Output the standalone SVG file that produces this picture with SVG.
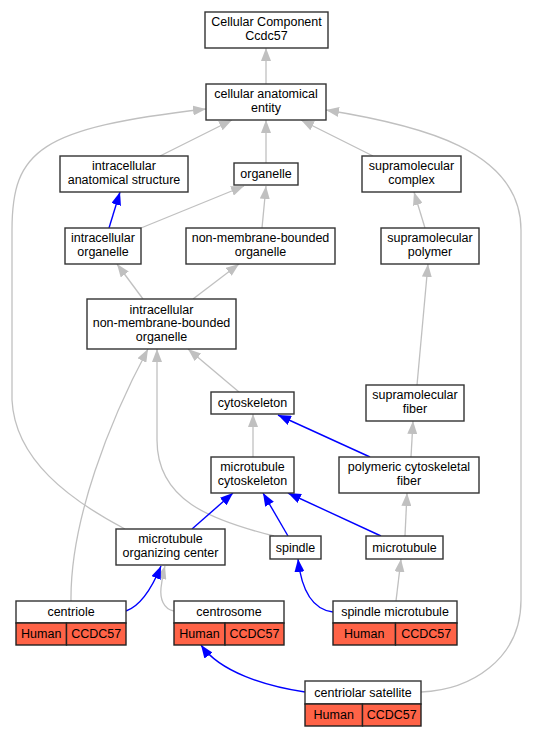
<svg xmlns="http://www.w3.org/2000/svg" width="533" height="736" viewBox="0 0 533 736">
<style>
.b{fill:#fff;stroke:#333;stroke-width:1.4}
.r{fill:#ff6347;stroke:#222;stroke-width:1.4}
text{font-family:"Liberation Sans",Arial,sans-serif;font-size:12.5px;fill:#000;text-anchor:middle}
.g{fill:none;stroke:#c0c0c0;stroke-width:1.3;marker-end:url(#ag)}
.u{fill:none;stroke:#0000ff;stroke-width:1.4;marker-end:url(#ab)}
</style>
<defs>
<marker id="ag" viewBox="0 0 13 10" refX="13" refY="5" markerWidth="13" markerHeight="10" markerUnits="userSpaceOnUse" orient="auto"><path d="M0,0 L13,5 L0,10 z" fill="#c0c0c0"/></marker>
<marker id="ab" viewBox="0 0 13 10" refX="13" refY="5" markerWidth="13" markerHeight="10" markerUnits="userSpaceOnUse" orient="auto"><path d="M0,0 L13,5 L0,10 z" fill="#0000ff"/></marker>
</defs>
<rect width="533" height="736" fill="#fff"/>
<g id="edges">
<path class="g" d="M266,84 L266,48"/>
<path class="g" d="M160,156 L232,120"/>
<path class="g" d="M266,163 L266,120"/>
<path class="g" d="M373,156 L301,120"/>
<path class="g" d="M125,529 C70,500 15,460 12,400 L12,230 C12,150 40,128 206,109"/>
<path class="g" d="M421,692 C470,690 521,660 521,600 L521,230 C521,150 420,125 326,110"/>
<path class="g" d="M141,228 L244,186"/>
<path class="g" d="M262,228 L266,186"/>
<path class="g" d="M425,228 L414,192"/>
<path class="g" d="M143,299 L117,264"/>
<path class="g" d="M193,299 L239,264"/>
<path class="g" d="M417,385 L428,264"/>
<path class="g" d="M239,392 L188,349"/>
<path class="g" d="M274,536 C210,520 157,500 157,440 L157,349"/>
<path class="g" d="M71,601 C70,520 110,420 148,349"/>
<path class="g" d="M253,457 L253,414"/>
<path class="g" d="M411,457 L413,421"/>
<path class="g" d="M405,536 L407,493"/>
<path class="g" d="M174,611 C163,609 160,598 161,588 C162,580 163,573 165,566"/>
<path class="g" d="M396,601 L401,559"/>
<path class="u" d="M109,228 L120,192"/>
<path class="u" d="M370,457 L278,415"/>
<path class="u" d="M192,529 L233,493"/>
<path class="u" d="M288,536 L263,493"/>
<path class="u" d="M381,536 L288,493"/>
<path class="u" d="M126,611 C140,606 152,588 161,566"/>
<path class="u" d="M333,612 C316,610 302,595 298,559"/>
<path class="u" d="M305,692 C265,686 220,672 201,645"/>
</g>
<g id="n_cc"><rect class="b" x="205" y="12" width="123" height="36"/><text x="266.5" y="26.2">Cellular Component</text><text x="266.5" y="39.7">Ccdc57</text></g>
<g id="n_ccae"><rect class="b" x="206" y="84" width="120" height="36"/><text x="266" y="98.2">cellular anatomical</text><text x="266" y="111.7">entity</text></g>
<g id="n_ias"><rect class="b" x="60" y="156" width="128" height="36"/><text x="124" y="170.2">intracellular</text><text x="124" y="183.7">anatomical structure</text></g>
<g id="n_org"><rect class="b" x="234" y="163" width="64" height="22"/><text x="266" y="178">organelle</text></g>
<g id="n_sc"><rect class="b" x="362" y="156" width="99" height="36"/><text x="411.5" y="170.2">supramolecular</text><text x="411.5" y="183.7">complex</text></g>
<g id="n_io"><rect class="b" x="65" y="228" width="76" height="36"/><text x="103" y="242.2">intracellular</text><text x="103" y="255.7">organelle</text></g>
<g id="n_nmbo"><rect class="b" x="186" y="228" width="149" height="36"/><text x="260.5" y="242.2">non-membrane-bounded</text><text x="260.5" y="255.7">organelle</text></g>
<g id="n_sp"><rect class="b" x="381" y="228" width="98" height="36"/><text x="430" y="242.2">supramolecular</text><text x="430" y="255.7">polymer</text></g>
<g id="n_inmbo"><rect class="b" x="87" y="299" width="149" height="50"/><text x="161.5" y="313.9">intracellular</text><text x="161.5" y="327.3">non-membrane-bounded</text><text x="161.5" y="340.7">organelle</text></g>
<g id="n_cyto"><rect class="b" x="211" y="392" width="83" height="22"/><text x="252.5" y="407">cytoskeleton</text></g>
<g id="n_sf"><rect class="b" x="366" y="385" width="98" height="36"/><text x="415" y="399.2">supramolecular</text><text x="415" y="412.7">fiber</text></g>
<g id="n_mtc"><rect class="b" x="211" y="457" width="83" height="36"/><text x="252.5" y="471.2">microtubule</text><text x="252.5" y="484.7">cytoskeleton</text></g>
<g id="n_pcf"><rect class="b" x="339" y="457" width="140" height="36"/><text x="409" y="471.2">polymeric cytoskeletal</text><text x="409" y="484.7">fiber</text></g>
<g id="n_mtoc"><rect class="b" x="116" y="529" width="109" height="36"/><text x="170.5" y="543.2">microtubule</text><text x="170.5" y="556.7">organizing center</text></g>
<g id="n_spindle"><rect class="b" x="270" y="536" width="51" height="23"/><text x="295.5" y="551.5">spindle</text></g>
<g id="n_mt"><rect class="b" x="366" y="536" width="77" height="23"/><text x="404.5" y="551.5">microtubule</text></g>
<g id="n_centriole"><rect class="b" x="16" y="601" width="110" height="22"/><rect class="r" x="16" y="623" width="50.5" height="22"/><rect class="r" x="66.5" y="623" width="59.5" height="22"/><text x="71" y="616">centriole</text><text x="41.2" y="638">Human</text><text x="96.2" y="638">CCDC57</text></g>
<g id="n_centrosome"><rect class="b" x="174" y="601" width="110" height="22"/><rect class="r" x="174" y="623" width="51" height="22"/><rect class="r" x="225" y="623" width="59" height="22"/><text x="229" y="616">centrosome</text><text x="199.5" y="638">Human</text><text x="254.5" y="638">CCDC57</text></g>
<g id="n_sm"><rect class="b" x="333" y="601" width="124" height="22"/><rect class="r" x="333" y="623" width="62.5" height="22"/><rect class="r" x="395.5" y="623" width="61.5" height="22"/><text x="395" y="616">spindle microtubule</text><text x="364.2" y="638">Human</text><text x="426.2" y="638">CCDC57</text></g>
<g id="n_cs"><rect class="b" x="305" y="681" width="116" height="23"/><rect class="r" x="305" y="704" width="57.5" height="22"/><rect class="r" x="362.5" y="704" width="58.5" height="22"/><text x="363" y="696.5">centriolar satellite</text><text x="333.7" y="719">Human</text><text x="391.7" y="719">CCDC57</text></g>
</svg>
